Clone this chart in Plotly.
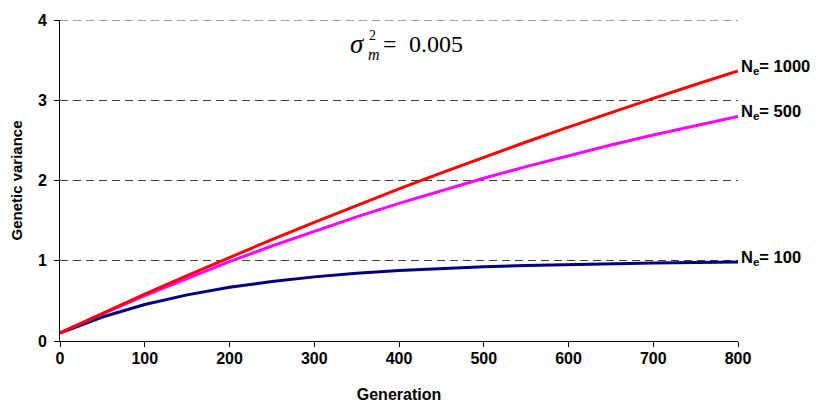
import plotly.graph_objects as go

generation = [0, 50, 100, 150, 200, 250, 300, 350, 400, 450, 500, 550, 600, 650, 700, 750, 800]
ne1000 = [0.10, 0.345, 0.583, 0.816, 1.042, 1.263, 1.479, 1.689, 1.895, 2.095, 2.290, 2.480, 2.666, 2.847, 3.023, 3.196, 3.364]
ne500 = [0.10, 0.339, 0.566, 0.782, 0.988, 1.184, 1.370, 1.547, 1.715, 1.876, 2.028, 2.173, 2.311, 2.442, 2.567, 2.685, 2.798]
ne100 = [0.10, 0.299, 0.454, 0.575, 0.669, 0.742, 0.799, 0.844, 0.878, 0.905, 0.926, 0.942, 0.955, 0.965, 0.973, 0.979, 0.984]
x_ticks = [0, 100, 200, 300, 400, 500, 600, 700, 800]
y_ticks = [0, 1, 2, 3, 4]

series = [
    ("N<sub>e</sub>= 100", ne100, "#000080"),
    ("N<sub>e</sub>= 500", ne500, "#FF00FF"),
    ("N<sub>e</sub>= 1000", ne1000, "#FF0000"),
]

fig = go.Figure()
for name, vals, col in series:
    fig.add_trace(go.Scatter(x=generation, y=vals, mode="lines", name=name,
                             line=dict(color=col, width=3), showlegend=False, cliponaxis=False))
    fig.add_annotation(x=generation[-1], y=vals[-1], text="<b>" + name + "</b>",
                       xanchor="left", yanchor="middle", xshift=1, yshift=4, showarrow=False,
                       font=dict(family="Liberation Sans, Arial", size=16.5, color="black"))

# top dashed gridline (at the edge of the range)
fig.add_shape(type="line", xref="paper", x0=0, x1=1, yref="y", y0=y_ticks[-1], y1=y_ticks[-1],
              line=dict(color="#404040", width=1, dash="8px,5px"), layer="below")

# sigma_m^2 = 0.005 label
serif = "Liberation Serif, Times New Roman"
def label(x, y, text, size):
    fig.add_annotation(x=x, y=y, text=text, xanchor="left", yanchor="middle", borderpad=0,
                       showarrow=False, font=dict(family=serif, size=size, color="black"))

label(341, 3.70, "<i>σ</i>", 27)
label(362, 3.57, "<i>m</i>", 16)
label(364, 3.81, "2", 14)
label(380, 3.70, "=", 24)
label(411, 3.70, "0.005", 24)

fig.update_layout(
    width=818, height=403,
    margin=dict(l=52, r=88, t=12, b=70),
    paper_bgcolor="white", plot_bgcolor="white",
    font=dict(family="Liberation Sans, Arial", size=16, color="black"),
)
fig.update_xaxes(range=[0, 800], tickvals=x_ticks, ticktext=["<b>%d</b>" % v for v in x_ticks],
                 showgrid=False, zeroline=False, showline=True, linecolor="black", linewidth=1,
                 ticks="outside", ticklen=5, tickcolor="black", automargin=False,
                 tickfont=dict(size=16), ticklabelstandoff=-2,
                 title=dict(text="<b>Generation</b>", font=dict(size=16), standoff=22))
fig.update_yaxes(range=[0, 4], tickvals=y_ticks, ticktext=["<b>%d</b>" % v for v in y_ticks],
                 showgrid=True, gridcolor="#404040", griddash="8px,5px", gridwidth=1,
                 zeroline=False, showline=True, linecolor="black", linewidth=1,
                 ticks="outside", ticklen=5, tickcolor="black", automargin=False,
                 tickfont=dict(size=16), ticklabelstandoff=4,
                 title=dict(text="<b>Genetic variance</b>", font=dict(size=15), standoff=11))

fig.write_html("out.html")
